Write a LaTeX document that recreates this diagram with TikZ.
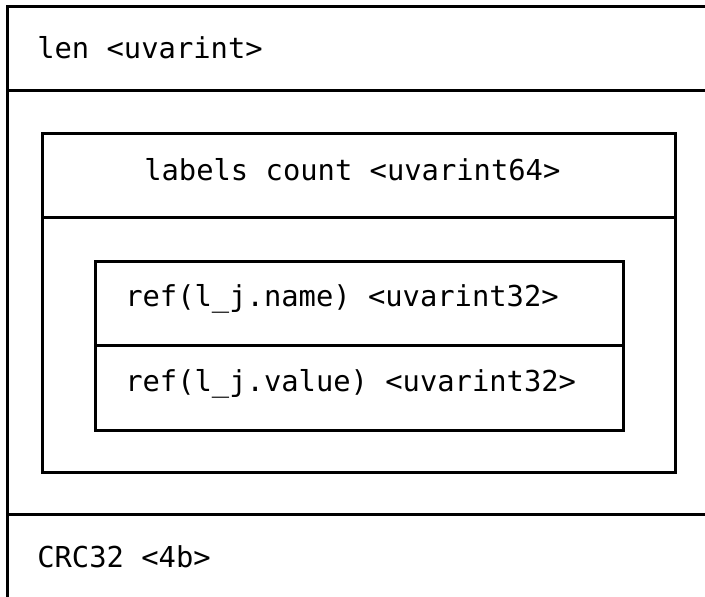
\documentclass[tikz,border=0pt]{standalone}
\usepackage{fontspec}
\newfontfamily\monofont{DejaVu Sans Mono}
\begin{document}
\begin{tikzpicture}[x=1pt,y=-1pt,line width=2.6pt,
  sepline/.style={draw,line width=2.6pt},
  field/.style={anchor=base west,inner sep=0pt,font=\monofont\fontsize{28.8}{34}\selectfont},
  frame/.style={draw,rectangle,inner sep=0pt,outer sep=0pt,anchor=north west}]
\useasboundingbox (0,0) rectangle (705,597);
% outer record: open to the right and bottom
\coordinate (otl) at (7.5,6.5);
\coordinate (otr) at (707,6.5);
\coordinate (obl) at (7.5,600);
\coordinate (o1l) at (7.5,90.5);
\coordinate (o1r) at (707,90.5);
\coordinate (o2l) at (7.5,514.5);
\coordinate (o2r) at (707,514.5);
\draw[sepline,line join=miter] (otr) -- (otl) -- (obl);
\draw[sepline] (o1l) -- (o1r);
\draw[sepline] (o2l) -- (o2r);
% labels block
\node[frame,minimum width=633pt,minimum height=339pt] (mid) at (42.5,133.5) {};
\coordinate (m1l) at (42.5,217.5);
\coordinate (m1r) at (675.5,217.5);
\draw[sepline] (m1l) -- (m1r);
% single label entry
\node[frame,minimum width=528pt,minimum height=169pt] (inner) at (95.5,261.5) {};
\coordinate (i1l) at (95.5,345.5);
\coordinate (i1r) at (623.5,345.5);
\draw[sepline] (i1l) -- (i1r);
% field texts
\node[field] (len) at (36,58) {len <uvarint>};
\node[field] (cnt) at (143,180) {labels count <uvarint64>};
\node[field] (nm) at (124,306) {ref(l\_j.name) <uvarint32>};
\node[field] (val) at (124,391) {ref(l\_j.value) <uvarint32>};
\node[field] (crc) at (36,567) {CRC32 <4b>};
\end{tikzpicture}
\end{document}
